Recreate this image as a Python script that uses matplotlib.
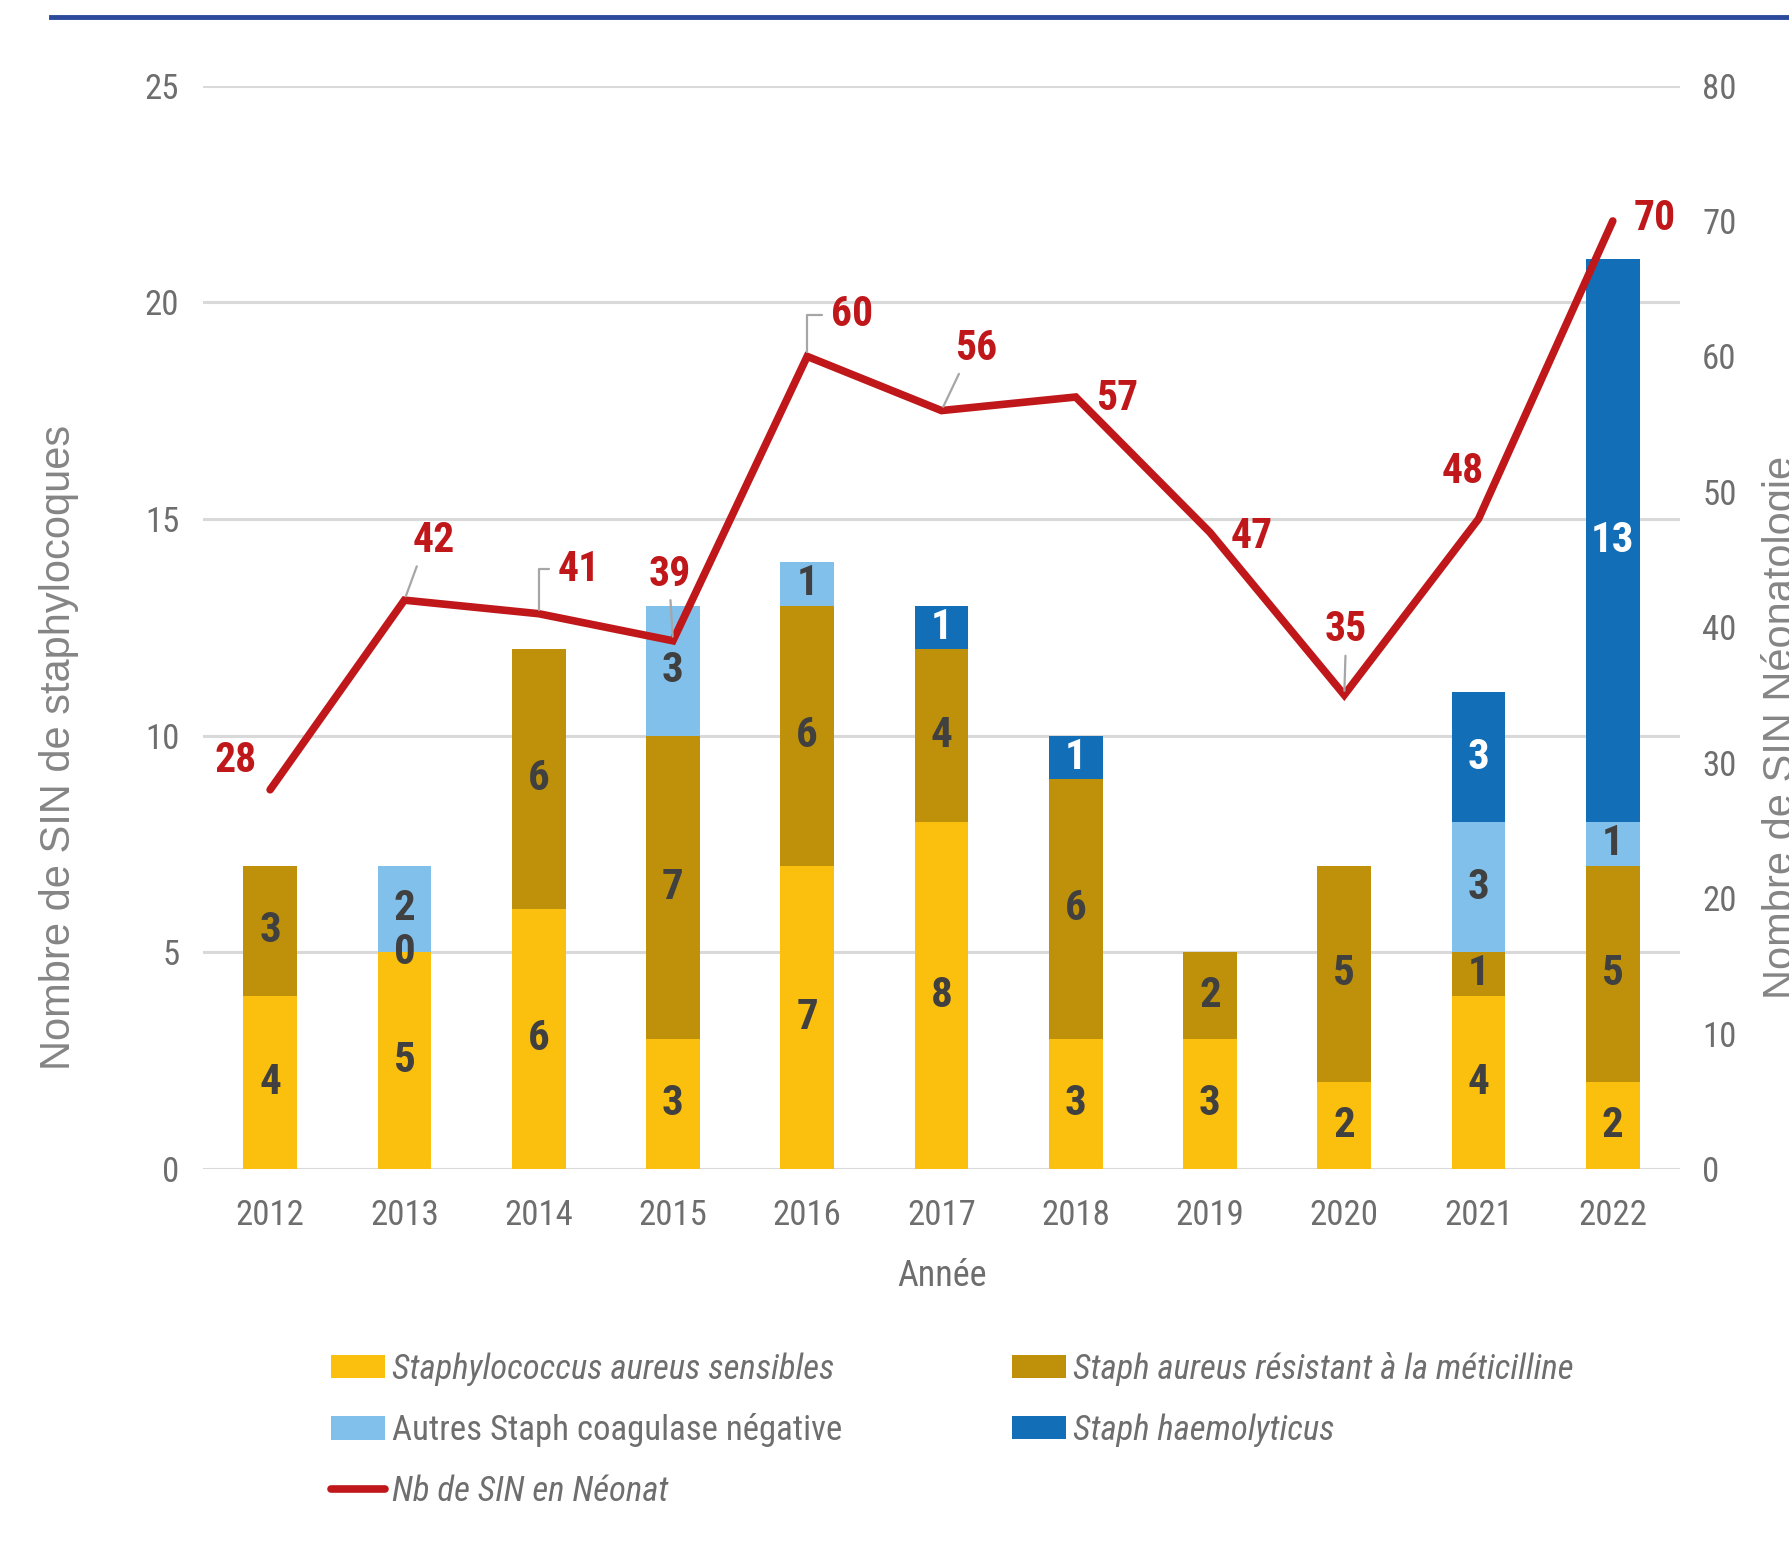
import numpy as np
import matplotlib
matplotlib.use("Agg")
import matplotlib.pyplot as plt
from matplotlib.lines import Line2D

# ---------------- data ----------------
years = ["2012", "2013", "2014", "2015", "2016", "2017", "2018", "2019", "2020", "2021", "2022"]
nan = np.nan
sa_sensibles = [4, 5, 6, 3, 7, 8, 3, 3, 2, 4, 2]
sarm = [3, 0, 6, 7, 6, 4, 6, 2, 5, 1, 5]
autres_scn = [nan, 2, nan, 3, 1, nan, nan, nan, nan, 3, 1]
haemolyticus = [nan, nan, nan, nan, nan, 1, 1, nan, nan, 3, 13]
sin_neonat = [28, 42, 41, 39, 60, 56, 57, 47, 35, 48, 70]

series_names = ["Staphylococcus aureus sensibles", "Staph aureus résistant à la méticilline",
                "Autres Staph coagulase négative", "Staph haemolyticus"]
line_name = "Nb de SIN en Néonat"
left_ticks = [0, 5, 10, 15, 20, 25]
right_ticks = [0, 10, 20, 30, 40, 50, 60, 70, 80]

# ---------------- style ----------------
NARROW = ["Roboto Condensed", "Liberation Sans", "DejaVu Sans"]
REGULAR = ["Liberation Sans", "DejaVu Sans"]
colors = ["#FBBF0D", "#BF910A", "#81C0EB", "#116EB7"]
label_colors = ["#404040", "#404040", "#404040", "#FFFFFF"]
red = "#C0181A"
tick_color = "#6E6E6E"
label_gray = "#858585"
grid_color = "#D9D9D9"

line_label_offsets = [(-25, 21), (21, 43), (29, 32), (-2, 48), (32, 30), (25, 45),
                      (30, -1), (30, -3), (1, 47), (-11, 34), (30, 2)]
leader = [None, "straight", "elbow", "straight", "elbow", "straight",
          None, None, "straight", None, None]

fig = plt.figure(figsize=(17.9, 15.64), dpi=100)
ax = fig.add_axes([0.1134, 0.2526, 0.8251, 0.6927])
ax2 = ax.twinx()

x = np.arange(len(years))
bottom = np.zeros(len(years))
all_series = [sa_sensibles, sarm, autres_scn, haemolyticus]
bars = []
for vals, name, c, lc in zip(all_series, series_names, colors, label_colors):
    v = np.array(vals, dtype=float)
    h = np.nan_to_num(v)
    b = ax.bar(x, h, width=0.4, bottom=bottom, color=c, label=name, zorder=2)
    labels = ["" if np.isnan(val) else str(int(val)) for val in v]
    ax.bar_label(b, labels=labels, label_type="center", color=lc,
                 fontsize=31, fontweight="bold", family=NARROW)
    bottom = bottom + h
    bars.append(b)

ax.set_xlim(-0.5, len(years) - 0.5)
ax.set_ylim(0, 25)
ax.set_yticks(left_ticks)
ax.set_xticks(x)
ax.set_xticklabels(years)
ax.yaxis.grid(True, color=grid_color, linewidth=2.2, zorder=0)
ax.set_axisbelow(True)
for s in ax.spines.values():
    s.set_visible(False)
ax.tick_params(axis="both", length=0, colors=tick_color, labelsize=25)
ax.tick_params(axis="x", pad=22)
ax.tick_params(axis="y", pad=17)
for t in ax.get_xticklabels() + ax.get_yticklabels():
    t.set_family(NARROW)

ln, = ax2.plot(x, sin_neonat, color=red, linewidth=5.5, solid_capstyle="round",
               solid_joinstyle="miter", label=line_name, zorder=5)
ax2.set_ylim(0, 80)
ax2.set_yticks(right_ticks)
for s in ax2.spines.values():
    s.set_visible(False)
ax2.tick_params(axis="y", length=0, colors=tick_color, labelsize=25, pad=16)
for t in ax2.get_yticklabels():
    t.set_family(NARROW)

for xi, val, off, ld in zip(x, sin_neonat, line_label_offsets, leader):
    kw = {}
    if ld == "straight":
        kw["arrowprops"] = dict(arrowstyle="-", color="#A6A6A6", lw=1.6,
                                shrinkA=2, shrinkB=3, relpos=(0.15 if off[0] > 5 else 0.5, 0.0))
    elif ld == "elbow":
        kw["arrowprops"] = dict(arrowstyle="-", color="#A6A6A6", lw=1.6,
                                shrinkA=4, shrinkB=3, relpos=(0.0, 0.5),
                                connectionstyle="angle,angleA=0,angleB=90,rad=0")
    ax2.annotate(str(val), xy=(xi, val), xytext=off, textcoords="offset points",
                 ha="center", va="center", color=red, fontsize=30, fontweight="bold",
                 family=NARROW, zorder=6, **kw)

fig.text(0.033, 0.522, "Nombre de SIN de staphylocoques", rotation=90, ha="center", va="center",
         fontsize=30, color=label_gray, family=REGULAR)
fig.text(0.995, 0.535, "Nombre de SIN Néonatologie", rotation=90, ha="center", va="center",
         fontsize=30, color=label_gray, family=REGULAR)
fig.text(0.526, 0.184, "Année", ha="center", va="center", fontsize=26,
         color=tick_color, family=NARROW)

fig.add_artist(Line2D([0.0285, 1.0], [0.989, 0.989], color="#2B4A9B", linewidth=3.5))

handles = [bars[0], bars[2], ln, bars[1], bars[3]]
names = [series_names[0], series_names[2], line_name, series_names[1], series_names[3]]
leg = fig.legend(handles, names, loc="upper left", bbox_to_anchor=(0.185, 0.1355),
                 ncol=2, frameon=False, handlelength=1.55, handleheight=0.65,
                 handletextpad=0.2, labelspacing=0.78, columnspacing=4.9,
                 borderpad=0, borderaxespad=0,
                 prop={"family": NARROW, "size": 25})
for i, t in enumerate(leg.get_texts()):
    t.set_color(tick_color)
    if names[i] != series_names[2]:
        t.set_style("italic")

fig.savefig("out.png", dpi=100)
